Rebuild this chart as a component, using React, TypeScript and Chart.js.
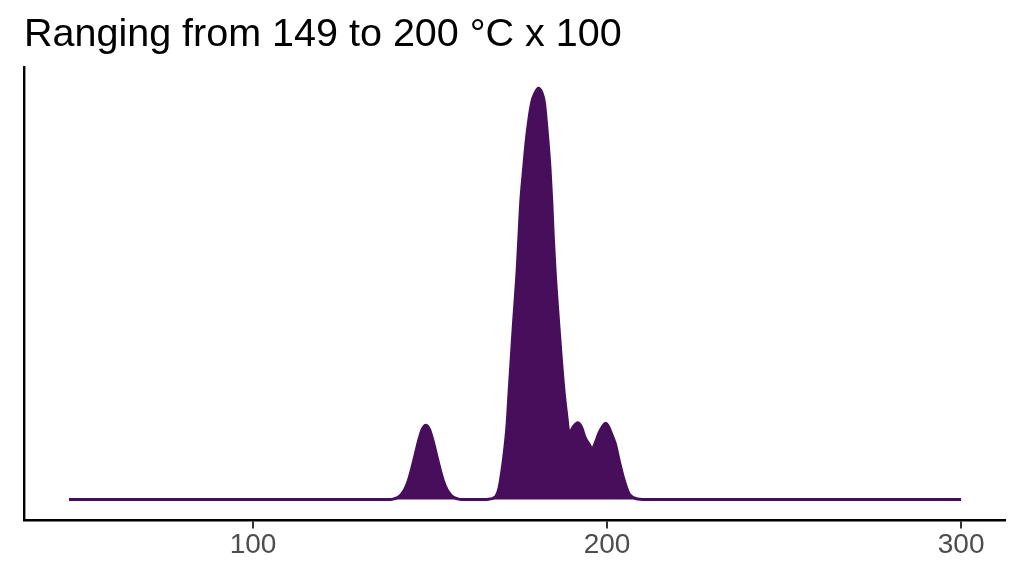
import React, { useEffect, useRef } from "react";
import { Chart, registerables } from "chart.js";

Chart.register(...registerables);

const chartTitle = "Ranging from 149 to 200 °C x 100";

// temperature (x) and kernel density (y)
const temps = [
  48, 138.8, 139.8, 140.8, 141.8, 142.8, 143.8, 144.8, 145.8, 146.8, 147.8, 148.8,
  149.8, 150.8, 151.8, 152.8, 153.8, 154.8, 155.8, 156.8, 157.8, 158.8,
  165.5, 166.5, 167.8, 168.7, 169.5, 170.1, 170.7, 171.7, 172.3, 172.9, 173.5, 174.6,
  175.1, 175.6, 176.4, 177.3, 178.7, 179.6, 180.6, 181.6, 182.3, 183.2, 183.9, 184.4,
  184.8, 185.3, 186.4, 187.1, 187.9, 188.6, 189.3, 190.5, 191.7, 192.8, 193.8, 194.8,
  195.8, 196.8, 197.7, 198.7, 199.6, 200.4, 201.1, 202.3, 203.4, 204.6, 205.4, 206.2,
  207.0, 207.9, 209.3, 211, 300,
];
const density = [
  0, 0, 0.0001, 0.0003, 0.00075, 0.0015, 0.0028, 0.0047, 0.0069, 0.0091, 0.0108, 0.0114,
  0.0108, 0.0091, 0.0069, 0.0047, 0.0028, 0.0015, 0.00075, 0.0003, 0.0001, 0,
  0, 0.00005, 0.0002, 0.0006, 0.0018, 0.0037, 0.006, 0.0111, 0.0163, 0.0214, 0.0265, 0.0352,
  0.0403, 0.0455, 0.0506, 0.0557, 0.0609, 0.0623, 0.0631, 0.0624, 0.0609, 0.0557, 0.0506, 0.0455,
  0.0403, 0.0352, 0.0265, 0.0214, 0.0163, 0.0129, 0.0102, 0.0112, 0.0118, 0.0111, 0.0095, 0.0086,
  0.0078, 0.0089, 0.0102, 0.0112, 0.0117, 0.0112, 0.0103, 0.0086, 0.006, 0.0034, 0.002, 0.0009,
  0.00045, 0.0002, 0.00003, 0, 0,
];
const xTicks = [100, 200, 300];

const fillColor = "#470E5C";
const fontFamily = "'Liberation Sans', Arial, Helvetica, sans-serif";

const DensityChart = () => {
  const chartRef = useRef<HTMLCanvasElement>(null);

  useEffect(() => {
    document.body.style.margin = "0";
    const ctx = chartRef.current!.getContext("2d")!;

    const chart = new Chart(ctx, {
      type: "line",
      data: {
        datasets: [
          {
            data: temps.map((t, i) => ({ x: t, y: density[i] })),
            borderColor: fillColor,
            backgroundColor: fillColor,
            borderWidth: 3,
            pointRadius: 0,
            fill: "origin",
            cubicInterpolationMode: "monotone",
          },
        ],
      },
      options: {
        responsive: false,
        animation: false,
        layout: { padding: { left: 24, right: 19, top: 0, bottom: 14 } },
        plugins: {
          legend: { display: false },
          tooltip: { enabled: false },
          title: {
            display: true,
            text: chartTitle,
            align: "start",
            color: "#000000",
            font: { family: fontFamily, size: 39.5, weight: "normal" },
            padding: { top: 11, bottom: 9 },
          },
        },
        scales: {
          x: {
            type: "linear",
            min: 35.3,
            max: 312.4,
            afterBuildTicks: (axis) => {
              axis.ticks = xTicks.map((value) => ({ value }));
            },
            grid: {
              display: true,
              drawOnChartArea: false,
              drawTicks: true,
              tickLength: 8,
              color: "#333333",
              lineWidth: 2,
            },
            border: { display: true, color: "#000000", width: 2.4 },
            ticks: {
              color: "#4D4D4D",
              font: { family: fontFamily, size: 28 },
              padding: 0,
              maxRotation: 0,
            },
          },
          y: {
            type: "linear",
            min: -0.0032,
            max: 0.0663,
            afterFit: (scale) => {
              scale.width = 0;
            },
            ticks: { display: false },
            grid: { display: false },
            border: { display: true, color: "#000000", width: 2.4 },
          },
        },
      },
    });

    return () => {
      chart.destroy();
    };
  }, []);

  return (
    <div style={{ width: 1024, height: 576 }}>
      <canvas ref={chartRef} width={1024} height={576} style={{ display: "block" }} />
    </div>
  );
};

export default function App() {
  return <DensityChart />;
}
